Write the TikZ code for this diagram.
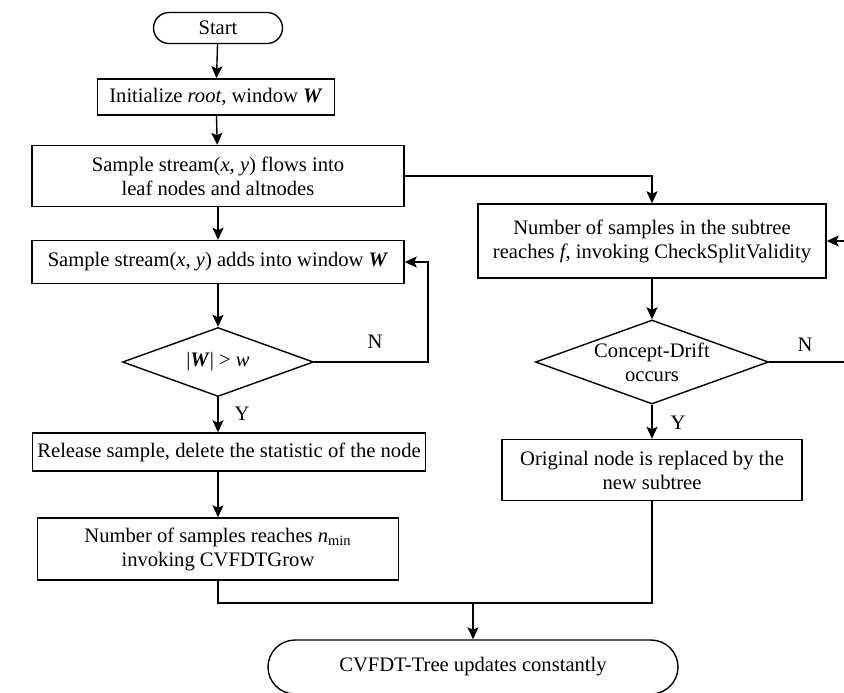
\documentclass[tikz,border=0pt]{standalone}
\usepackage{fontspec}
\setmainfont{Liberation Serif}
\usetikzlibrary{arrows.meta,shapes.misc,shapes.geometric}
\newcommand{\vW}{\textbf{\textit{W}}}
\begin{document}
\begin{tikzpicture}[x=0.5pt,y=-0.5pt,
  font=\fontsize{10.3}{12}\selectfont,
  every path/.style={line width=0.7pt},
  >={Stealth[length=6pt,width=5.5pt,inset=1.2pt]},
  box/.style={draw,align=center,inner sep=0pt},
  terminal/.style={draw,rounded rectangle,inner sep=0pt},
  decision/.style={draw,diamond,aspect=2.8,align=center,inner sep=-1.5pt}]
\useasboundingbox (0,0) rectangle (844,692);
% left column
\node[terminal,minimum width=64.5pt,minimum height=15.5pt] (start) at (218,28) {Start};
\node[box,minimum width=118.5pt,minimum height=18pt] (init) at (216,97) {Initialize \textit{root}, window \vW};
\node[box,minimum width=186pt,minimum height=30.5pt] (flow) at (218,176) {Sample stream(\textit{x}, \textit{y}) flows into\\leaf nodes and altnodes};
\node[box,minimum width=186pt,minimum height=21.5pt] (adds) at (218,262) {Sample stream(\textit{x}, \textit{y}) adds into window \vW};
\node[decision,minimum width=95.5pt,minimum height=34.5pt] (dia1) at (218,362) {|\vW| > \textit{w}};
\node[box,minimum width=196.5pt,minimum height=19pt] (release) at (229,452) {Release sample, delete the statistic of the node};
\node[box,minimum width=180.5pt,minimum height=31pt] (grow) at (218,549) {Number of samples reaches \textit{n}\textsubscript{min}\\invoking CVFDTGrow};
% right column
\node[box,minimum width=174pt,minimum height=37pt] (check) at (652,241) {Number of samples in the subtree\\reaches \textit{f}, invoking CheckSplitValidity};
\node[decision,minimum width=116.5pt,minimum height=42pt] (dia2) at (652,362) {Concept-Drift\\occurs};
\node[box,minimum width=150pt,minimum height=30.5pt] (replace) at (652,470) {Original node is replaced by the\\new subtree};
\node[terminal,minimum width=205pt,minimum height=27pt] (end) at (473,667) {CVFDT-Tree updates constantly};
\coordinate (loopA) at (428,362);
\coordinate (loopB) at (846,362);
\coordinate (join) at (473,603);
% connectors
\draw[->] (start) -- (init);
\draw[->] (init) -- (flow);
\draw[->] (flow) -- (adds);
\draw[->] (flow.east) -| (check.north);
\draw[->] (adds) -- (dia1);
\draw[->] (dia1.east) -- (loopA) |- (adds.east);
\node (n1) at (375,342) {N};
\draw[->] (dia1) -- (release.north -| dia1.south);
\node (y1) at (242,414) {Y};
\draw[->] (grow.north |- release.south) -- (grow.north);
\draw (grow.south) |- (join);
\draw[->] (check) -- (dia2);
\draw[->] (dia2.east) -- (loopB) |- (check.east);
\node (n2) at (805,345) {N};
\draw[->] (dia2) -- (replace);
\node (y2) at (678,423) {Y};
\draw (replace.south) |- (join);
\draw[->] (join) -- (end);
\end{tikzpicture}
\end{document}
